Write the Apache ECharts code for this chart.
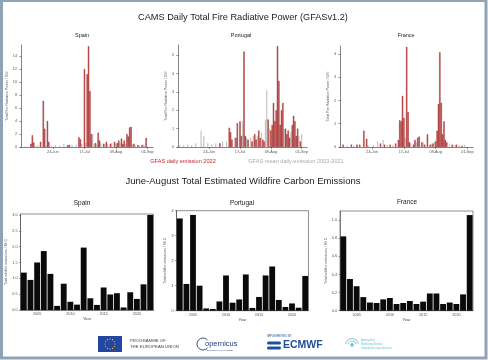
<!DOCTYPE html>
<html><head><meta charset="utf-8">
<script src="https://cdn.jsdelivr.net/npm/echarts@6/dist/echarts.min.js"></script>
<style>html,body{margin:0;padding:0;background:#fff}#c{width:488px;height:360px}</style>
</head><body><div id="c"></div>
<script>
// ---- top panels: daily FRP (day 0 = 1 June 2022) ----
const tickDays = [23, 46, 69, 92];
const tickLabels = ['24-Jun', '17-Jul', '09-Aug', '01-Sep'];

const spain2022 = [[7,0.5],[8,1.8],[9,0.7],[14,0.8],[16,7.1],[17,2.8],[19,4.0],[20,0.8],[34,0.3],[35,0.3],[42,1.5],[43,1.2],[46,12.0],[48,11.2],[49,15.5],[50,8.6],[51,2.0],[54,0.6],[56,2.2],[57,1.0],[60,0.5],[62,0.8],[65,0.5],[68,0.8],[70,0.6],[71,1.0],[73,1.3],[74,0.5],[75,1.0],[77,2.0],[78,1.6],[79,3.0],[80,3.1],[82,0.5],[85,0.3],[88,0.3],[91,1.4]];
const spainMean = [[3,0.1],[10,0.2],[12,0.3],[18,0.2],[22,0.2],[25,0.3],[28,0.2],[31,0.5],[33,0.2],[37,0.3],[40,0.4],[44,0.5],[47,0.6],[52,2.0],[53,0.5],[55,0.4],[58,0.6],[61,0.5],[63,0.4],[66,0.6],[69,0.5],[72,0.6],[76,0.5],[81,0.4],[83,0.3],[86,0.3],[89,0.4],[90,0.3]];

const portugal2022 = [[31,0.2],[38,1.05],[39,0.8],[40,0.4],[43,0.5],[44,1.3],[46,1.4],[47,0.6],[49,5.2],[50,0.6],[52,0.4],[55,0.3],[57,0.7],[58,0.4],[60,0.9],[61,0.5],[63,0.4],[64,0.3],[67,1.5],[69,0.9],[70,1.2],[71,2.4],[72,1.4],[73,2.0],[74,5.5],[75,3.6],[76,1.2],[77,2.0],[78,2.4],[80,1.0],[81,0.7],[82,0.9],[83,0.5],[85,1.2],[86,1.7],[87,1.4],[88,0.6],[89,1.0],[91,0.3]];
const portugalMean = [[1,0.1],[4,0.1],[7,0.15],[10,0.1],[13,0.2],[17,0.9],[19,0.6],[22,0.2],[25,0.15],[28,0.2],[33,0.3],[36,0.3],[42,0.5],[48,1.4],[51,0.5],[54,0.5],[56,0.6],[59,0.6],[62,0.8],[65,1.5],[66,3.1],[68,1.0],[79,1.0],[84,0.8],[90,0.6],[92,0.7]];

const france2022 = [[2,0.1],[8,0.1],[12,0.1],[14,0.1],[17,0.7],[19,0.35],[29,0.15],[32,0.1],[36,0.1],[40,0.15],[42,0.3],[43,1.15],[44,1.1],[45,2.2],[46,1.25],[48,4.3],[49,1.5],[50,0.2],[53,0.1],[54,0.3],[56,0.4],[57,0.45],[59,0.2],[61,0.1],[63,0.55],[65,0.1],[67,0.15],[69,0.25],[70,0.7],[71,1.85],[72,4.07],[73,1.9],[74,0.55],[75,1.1],[76,0.3],[77,0.2],[81,0.1],[84,0.1],[88,0.05]];
const franceMean = [[5,0.05],[10,0.05],[20,0.1],[24,0.1],[27,0.25],[31,0.3],[34,0.1],[38,0.1],[47,0.4],[51,0.15],[55,0.2],[60,0.2],[66,0.15],[68,0.2],[79,0.15],[83,0.1],[86,0.1],[90,0.1]];

const spainFrpTicks = [0,2,4,6,8,10,12,14];
const portugalFrpTicks = [0,1,2,3,4,5];
const franceFrpTicks = [0,1,2,3,4];

// ---- bottom panels: June-August totals ----
const years = ['2003','2004','2005','2006','2007','2008','2009','2010','2011','2012','2013','2014','2015','2016','2017','2018','2019','2020','2021','2022'];
const yearTickLabels = ['2005','2010','2015','2020'];
const spainTotal = [1.18,0.95,1.5,1.86,1.14,0.13,0.83,0.26,0.17,1.97,0.37,0.16,0.71,0.49,0.53,0.08,0.56,0.35,0.81,3.0];
const portugalTotal = [3.69,1.07,3.83,1.0,0.09,0.07,0.37,1.41,0.32,0.45,1.45,0.11,0.55,1.41,1.77,0.43,0.15,0.29,0.12,1.39];
const franceTotal = [0.82,0.35,0.27,0.15,0.09,0.085,0.125,0.14,0.074,0.085,0.107,0.074,0.10,0.19,0.19,0.074,0.09,0.074,0.18,1.055];
const spainTotalTicks = [0,0.5,1,1.5,2,2.5,3];
const portugalTotalTicks = [0,1,2,3,4];
const franceTotalTicks = [0,0.2,0.4,0.6,0.8,1.0];

const F = '"Liberation Sans", Arial, sans-serif';
const AX = '#333';

const grids = [], xAxes = [], yAxes = [], series = [];

function topPanel(g, ymax, yticks, red, gray) {
  const i = grids.length;
  grids.push({left: g[0], top: g[1], width: g[2], height: g[3], containLabel: false});
  xAxes.push({type: 'value', gridIndex: i, min: -1, max: 96,
    axisLine: {lineStyle: {color: AX, width: 0.6}},
    axisTick: {customValues: tickDays, length: 2, lineStyle: {color: AX, width: 0.5}},
    axisLabel: {customValues: tickDays, fontSize: 3.8, color: '#555', margin: 3, fontFamily: F,
      formatter: v => tickLabels[tickDays.indexOf(v)] || ''},
    splitLine: {show: false}});
  yAxes.push({type: 'value', gridIndex: i, min: 0, max: ymax,
    name: 'Total Fire Radiative Power / GW', nameLocation: 'middle', nameGap: 8,
    nameTextStyle: {fontSize: 3.5, color: '#555', fontFamily: F},
    axisLine: {show: true, lineStyle: {color: AX, width: 0.6}},
    axisTick: {show: true, customValues: yticks, length: 2, lineStyle: {color: AX, width: 0.5}},
    axisLabel: {customValues: yticks, fontSize: 3.8, color: '#555', margin: 3, fontFamily: F},
    splitLine: {show: false}});
  series.push({type: 'bar', xAxisIndex: i, yAxisIndex: i, data: gray, barWidth: 1.2, barGap: '-100%',
    itemStyle: {color: '#c4c4c4'}, silent: true});
  series.push({type: 'bar', xAxisIndex: i, yAxisIndex: i, data: red, barWidth: 1.3, barGap: '-100%',
    itemStyle: {color: '#d85555', borderColor: '#851515', borderWidth: 0.4}, silent: true});
}

function bottomPanel(g, ymax, yticks, data, dec) {
  const i = grids.length;
  grids.push({left: g[0], top: g[1], width: g[2], height: g[3], show: true,
    borderColor: '#444', borderWidth: 0.6, backgroundColor: 'transparent'});
  xAxes.push({type: 'category', gridIndex: i, data: years,
    name: 'Year', nameLocation: 'middle', nameGap: 6,
    nameTextStyle: {fontSize: 4, color: '#444', fontFamily: F},
    axisLine: {lineStyle: {color: '#444', width: 0.6}},
    axisTick: {alignWithLabel: true, length: 1.5, interval: (idx, v) => yearTickLabels.includes(v), lineStyle: {color: '#444', width: 0.5}},
    axisLabel: {fontSize: 3.8, color: '#555', margin: 2, fontFamily: F, interval: (idx, v) => yearTickLabels.includes(v)}});
  yAxes.push({type: 'value', gridIndex: i, min: 0, max: ymax,
    name: 'Total wildfire emissions / Mt C', nameLocation: 'middle', nameGap: 9,
    nameTextStyle: {fontSize: 3.5, color: '#555', fontFamily: F},
    axisLine: {show: true, lineStyle: {color: '#444', width: 0.6}},
    axisTick: {show: true, customValues: yticks, length: 1.5, lineStyle: {color: '#444', width: 0.5}},
    axisLabel: {customValues: yticks, fontSize: 3.8, color: '#555', margin: 3, fontFamily: F,
      formatter: v => v.toFixed(dec)},
    splitLine: {show: false}});
  series.push({type: 'bar', xAxisIndex: i, yAxisIndex: i, data: data, barCategoryGap: '12%',
    itemStyle: {color: '#0a0a0a'}, silent: true});
}

topPanel([20, 45, 133, 102], 15.7, spainFrpTicks, spain2022, spainMean);
topPanel([177, 45, 130, 102], 5.56, portugalFrpTicks, portugal2022, portugalMean);
topPanel([339, 46, 134, 101], 4.34, franceFrpTicks, france2022, franceMean);
bottomPanel([20.5, 214, 133, 96], 3.03, spainTotalTicks, spainTotal, 1);
bottomPanel([176.5, 210.7, 132, 100], 4.0, portugalTotalTicks, portugalTotal, 0);
bottomPanel([340, 211, 133, 99.7], 1.1, franceTotalTicks, franceTotal, 1);

function txt(x, y, s, size, color, opts) {
  return Object.assign({type: 'text', x: x, y: y, silent: true,
    style: Object.assign({text: s, fontSize: size, fill: color, fontFamily: F,
      textAlign: 'center', textVerticalAlign: 'middle'}, opts || {})});
}

const stars = [];
for (let k = 0; k < 12; k++) {
  const a = k * Math.PI / 6;
  stars.push({type: 'circle', silent: true, shape: {cx: 110 + 5 * Math.cos(a), cy: 344 + 5 * Math.sin(a), r: 0.55}, style: {fill: '#ffd617'}});
}

const graphics = [
  {type: 'rect', silent: true, shape: {x: 1.5, y: 0.5, width: 484.5, height: 357.5}, style: {fill: 'none', stroke: '#8ea3b8', lineWidth: 3}},
  txt(243, 17, 'CAMS Daily Total Fire Radiative Power (GFASv1.2)', 9.2, '#222'),
  txt(82, 35, 'Spain', 5.5, '#222'),
  txt(241, 35, 'Portugal', 5.5, '#222'),
  txt(406, 35, 'France', 5.5, '#222'),
  txt(183, 161.5, 'GFAS daily emission 2022', 5.6, '#c0282d'),
  txt(296, 161.5, 'GFAS mean daily emission 2003-2021', 5.6, '#aaaaaa'),
  txt(243, 181, 'June-August Total Estimated Wildfire Carbon Emissions', 9.5, '#222'),
  txt(82, 203.5, 'Spain', 6.5, '#222'),
  txt(242, 203, 'Portugal', 6.5, '#222'),
  txt(407, 202, 'France', 6.5, '#222'),
  // logos
  {type: 'rect', silent: true, shape: {x: 98, y: 336, width: 24, height: 16}, style: {fill: '#2546a0'}},
  ...stars,
  txt(130, 340.5, 'PROGRAMME OF', 4.3, '#444', {textAlign: 'left'}),
  txt(130, 346.5, 'THE EUROPEAN UNION', 4.3, '#444', {textAlign: 'left'}),
  {type: 'arc', silent: true, shape: {cx: 203, cy: 344, r: 6, startAngle: 0.7, endAngle: 5.6}, style: {fill: 'none', stroke: '#1c3f7a', lineWidth: 0.9}},
  txt(205, 344, 'opernicus', 7.5, '#1c3f7a', {textAlign: 'left'}),
  txt(220, 350.5, 'Europe\u2019s eyes on Earth', 2.5, '#1c3f7a'),
  txt(267, 336, 'IMPLEMENTED BY', 2.8, '#1f4e9a', {textAlign: 'left'}),
  {type: 'rect', silent: true, shape: {x: 267, y: 341.5, width: 14, height: 3, r: 1.5}, style: {fill: '#1f4e9a'}},
  {type: 'rect', silent: true, shape: {x: 267, y: 346.5, width: 14, height: 3, r: 1.5}, style: {fill: '#1f4e9a'}},
  txt(283, 345.5, 'ECMWF', 10.5, '#1f4e9a', {textAlign: 'left', fontWeight: 'bold'}),
  {type: 'arc', silent: true, shape: {cx: 352, cy: 345, r: 6.5, startAngle: 3.3, endAngle: 6.1}, style: {fill: 'none', stroke: '#6cc4cc', lineWidth: 0.9}},
  {type: 'arc', silent: true, shape: {cx: 352, cy: 345, r: 4.2, startAngle: 3.3, endAngle: 6.1}, style: {fill: 'none', stroke: '#6cc4cc', lineWidth: 0.8}},
  {type: 'circle', silent: true, shape: {cx: 352, cy: 345, r: 1.8}, style: {fill: '#6cc4cc'}},
  txt(361, 340, 'Atmosphere', 2.6, '#6cc4cc', {textAlign: 'left'}),
  txt(361, 344, 'Monitoring Service', 2.6, '#6cc4cc', {textAlign: 'left'}),
  txt(361, 348, 'atmosphere.copernicus.eu', 2.6, '#6cc4cc', {textAlign: 'left'})
];

const chart = echarts.init(document.getElementById('c'), null, {renderer: 'canvas'});
chart.setOption({
  backgroundColor: '#ffffff',
  animation: false,
  grid: grids, xAxis: xAxes, yAxis: yAxes, series: series,
  graphic: graphics
});
</script>
</body></html>
